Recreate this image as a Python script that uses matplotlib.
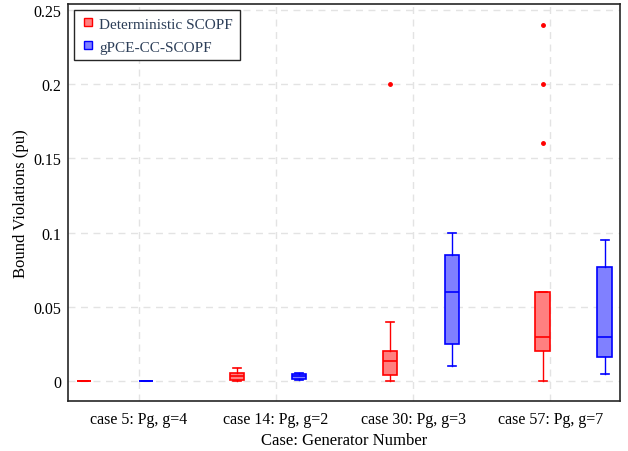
import matplotlib
matplotlib.use("Agg")
import matplotlib.pyplot as plt
from matplotlib.lines import Line2D

# category labels
cases = ["case 5: Pg, g=4", "case 14: Pg, g=2", "case 30: Pg, g=3", "case 57: Pg, g=7"]

# box statistics: whislo, q1, med, q3, whishi
det_whislo = [0.0, 0.0, 0.0, 0.0]
det_q1 = [0.0, 0.0009, 0.004, 0.020]
det_med = [0.0, 0.0032, 0.0133, 0.030]
det_q3 = [0.0, 0.0054, 0.020, 0.060]
det_whishi = [0.0, 0.0086, 0.040, 0.060]
det_fliers = [[], [], [0.20], [0.16, 0.20, 0.24]]

gpce_whislo = [0.0, 0.0007, 0.010, 0.005]
gpce_q1 = [0.0, 0.0016, 0.025, 0.016]
gpce_med = [0.0002, 0.0032, 0.060, 0.030]
gpce_q3 = [0.0003, 0.0047, 0.085, 0.0766]
gpce_whishi = [0.0003, 0.0054, 0.100, 0.095]
gpce_fliers = [[], [], [], []]


def stats(whislo, q1, med, q3, whishi, fliers):
    return [
        {"whislo": a, "q1": b, "med": c, "q3": d, "whishi": e, "fliers": f}
        for a, b, c, d, e, f in zip(whislo, q1, med, q3, whishi, fliers)
    ]


plt.rcParams["font.family"] = ["Liberation Serif", "DejaVu Serif"]
fig = plt.figure(figsize=(6.28, 4.52), dpi=100)
ax = fig.add_axes([0.108, 0.111, 0.879, 0.878])

ticks = list(range(1, len(cases) + 1))
step = 1.113
red_pos = [0.604 + step * i for i in range(len(cases))]
blue_pos = [p + 0.452 for p in red_pos]
width = 0.105


def draw(st, pos, edge, face):
    ax.bxp(
        st,
        positions=pos,
        widths=width,
        patch_artist=True,
        showfliers=True,
        manage_ticks=False,
        boxprops=dict(facecolor=face, edgecolor=edge, linewidth=1.2),
        medianprops=dict(color=edge, linewidth=1.2),
        whiskerprops=dict(color=edge, linewidth=1.0),
        capprops=dict(color=edge, linewidth=1.2),
        flierprops=dict(marker="o", markersize=2.5, markerfacecolor=edge,
                        markeredgecolor=edge, linestyle="none"),
        capwidths=width * 0.55,
    )


draw(stats(det_whislo, det_q1, det_med, det_q3, det_whishi, det_fliers),
     red_pos, "#ff0000", "#ff8080")
draw(stats(gpce_whislo, gpce_q1, gpce_med, gpce_q3, gpce_whishi, gpce_fliers),
     blue_pos, "#0000ff", "#8080ff")

ax.set_xlim(0.485, 4.506)
ax.set_ylim(-0.0133, 0.2539)
ax.set_xticks(ticks)
ax.set_xticklabels(cases)
ax.set_yticks([0, 0.05, 0.1, 0.15, 0.2, 0.25])
ax.set_yticklabels(["0", "0.05", "0.1", "0.15", "0.2", "0.25"])
ax.tick_params(axis="x", length=0, labelsize=11.5, pad=7)
ax.tick_params(axis="y", length=0, labelsize=11.5, pad=5)
ax.grid(True, linestyle=(0, (5, 4)), color="#e3e3e3", linewidth=1.0)
ax.set_axisbelow(True)
for side in ["left", "bottom", "right", "top"]:
    ax.spines[side].set_color("#262626")
    ax.spines[side].set_linewidth(1.2)
ax.set_xlabel("Case: Generator Number", fontsize=12, labelpad=4)
ax.set_ylabel("Bound Violations (pu)", fontsize=12, labelpad=3)

handles = [
    Line2D([], [], marker="s", linestyle="none", markersize=6,
           markerfacecolor="#ff8080", markeredgecolor="#ff0000"),
    Line2D([], [], marker="s", linestyle="none", markersize=6,
           markerfacecolor="#8080ff", markeredgecolor="#0000ff"),
]
leg = ax.legend(handles, ["Deterministic SCOPF", "gPCE-CC-SCOPF"], loc="upper left",
                fontsize=11, fancybox=False, framealpha=1, edgecolor="#262626",
                handletextpad=0.2, borderaxespad=0.4, handlelength=1.0,
                labelcolor="#2c3e58", borderpad=0.45, labelspacing=0.6)
leg.get_frame().set_linewidth(1.0)

fig.savefig("out.png", dpi=100)
